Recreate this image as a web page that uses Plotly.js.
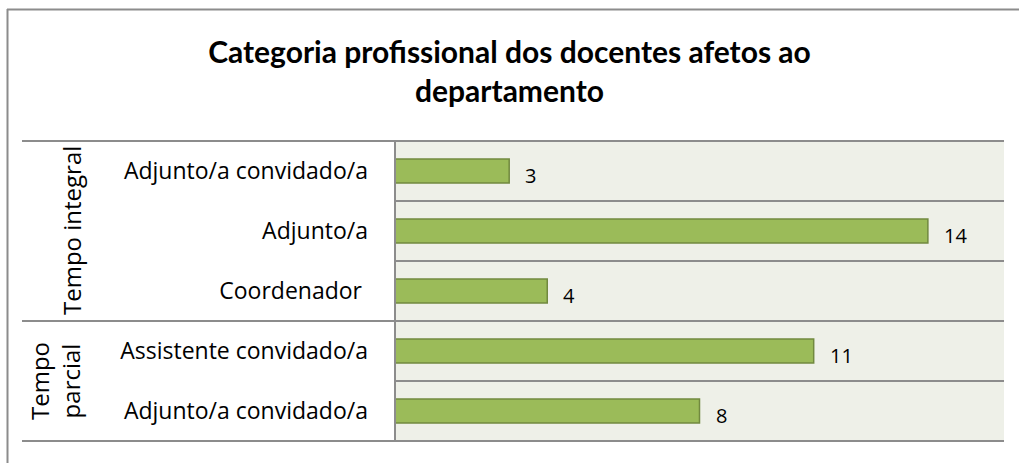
<!DOCTYPE html>
<html>
<head>
<meta charset="utf-8">
<script src="https://cdn.plot.ly/plotly-3.0.1.min.js"></script>
<style>html,body{margin:0;padding:0;background:#fff;}#chart{width:1019px;height:463px;}</style>
</head>
<body>
<div id="chart"></div>
<script>
// ---- data ----
const titleText = "Categoria profissional dos docentes afetos ao<br>departamento";
const categories = ["Adjunto/a convidado/a", "Adjunto/a", "Coordenador\u00a0", "Assistente convidado/a", "Adjunto/a convidado/a"];
const values = [3, 14, 4, 11, 8];
const groups = ["Tempo integral", "Tempo<br>parcial"];
const groupSizes = [3, 2];

// ---- layout helpers ----
const W = 1019, H = 463;
const M = {l: 395, r: 15, t: 141, b: 22};
const pw = W - M.l - M.r, ph = H - M.t - M.b;
const px2x = p => (p - M.l) / pw;
const py2y = p => 1 - (p - M.t) / ph;
const n = categories.length;
const idx = categories.map((_, i) => i);
const lineColor = "#8c8c8c";
const FONT = "'Open Sans', sans-serif";
const TFONT = "Lato, 'Open Sans', sans-serif";

const shapes = [];
function hline(y, x0, x1) {
  shapes.push({type: "line", xref: "paper", yref: "paper", x0: x0, x1: x1, y0: y, y1: y,
    line: {color: lineColor, width: 2}, layer: "above"});
}
// outer frame (top + left)
hline(py2y(9.5), px2x(7), px2x(W));
shapes.push({type: "line", xref: "paper", yref: "paper", x0: px2x(7.5), x1: px2x(7.5), y0: py2y(9), y1: py2y(H),
  line: {color: lineColor, width: 2}, layer: "above"});
// row boundaries
const groupBounds = [0];
groupSizes.forEach(s => groupBounds.push(groupBounds[groupBounds.length - 1] + s));
for (let k = 0; k <= n; k++) {
  const y = 1 - k / n;
  if (groupBounds.includes(k)) hline(y, px2x(22), 1);
  else hline(y, 0, 1);
}
// plot left border
shapes.push({type: "line", xref: "paper", yref: "paper", x0: 0, x1: 0, y0: 0, y1: 1,
  line: {color: lineColor, width: 2}, layer: "above"});

const annotations = [];
// group labels
groups.forEach((g, gi) => {
  const k0 = groupBounds[gi], k1 = groupBounds[gi + 1];
  annotations.push({
    xref: "paper", yref: "paper", x: gi === 0 ? px2x(71) : px2x(55), y: 1 - (k0 + k1) / 2 / n,
    text: g, showarrow: false, textangle: -90, xanchor: "center", yanchor: "middle",
    font: {family: FONT, size: 24, color: "#000"}
  });
});
// value labels
values.forEach((v, i) => {
  annotations.push({
    x: v, y: i, xref: "x", yref: "y", text: String(v), showarrow: false,
    xanchor: "left", yanchor: "middle", xshift: 14, yshift: -4,
    font: {family: FONT, size: 20, color: "#000"}
  });
});

const trace = {
  type: "bar", orientation: "h", x: values, y: idx, width: 0.4,
  marker: {color: "#9bbb59", line: {color: "#71893f", width: 1.5}},
  hoverinfo: "none"
};

const layout = {
  width: W, height: H,
  margin: M,
  paper_bgcolor: "#ffffff", plot_bgcolor: "#eef0e8",
  font: {family: FONT, color: "#000"},
  title: {text: titleText, x: 0.5, xref: "container", xanchor: "center", y: 1 - 63 / H, yref: "container", yanchor: "middle",
    font: {family: TFONT, size: 30, color: "#000", weight: "bold"}},
  showlegend: false,
  xaxis: {range: [0, 16], visible: false, showgrid: false, zeroline: false, fixedrange: true},
  yaxis: {range: [n - 0.5, -0.5], tickvals: idx, ticktext: categories, showgrid: false, zeroline: false,
    ticks: "", ticklabelstandoff: 26, tickfont: {family: FONT, size: 23, color: "#000"}, fixedrange: true},
  shapes: shapes, annotations: annotations
};

Plotly.newPlot("chart", [trace], layout, {displayModeBar: false, staticPlot: true});
</script>
</body>
</html>
